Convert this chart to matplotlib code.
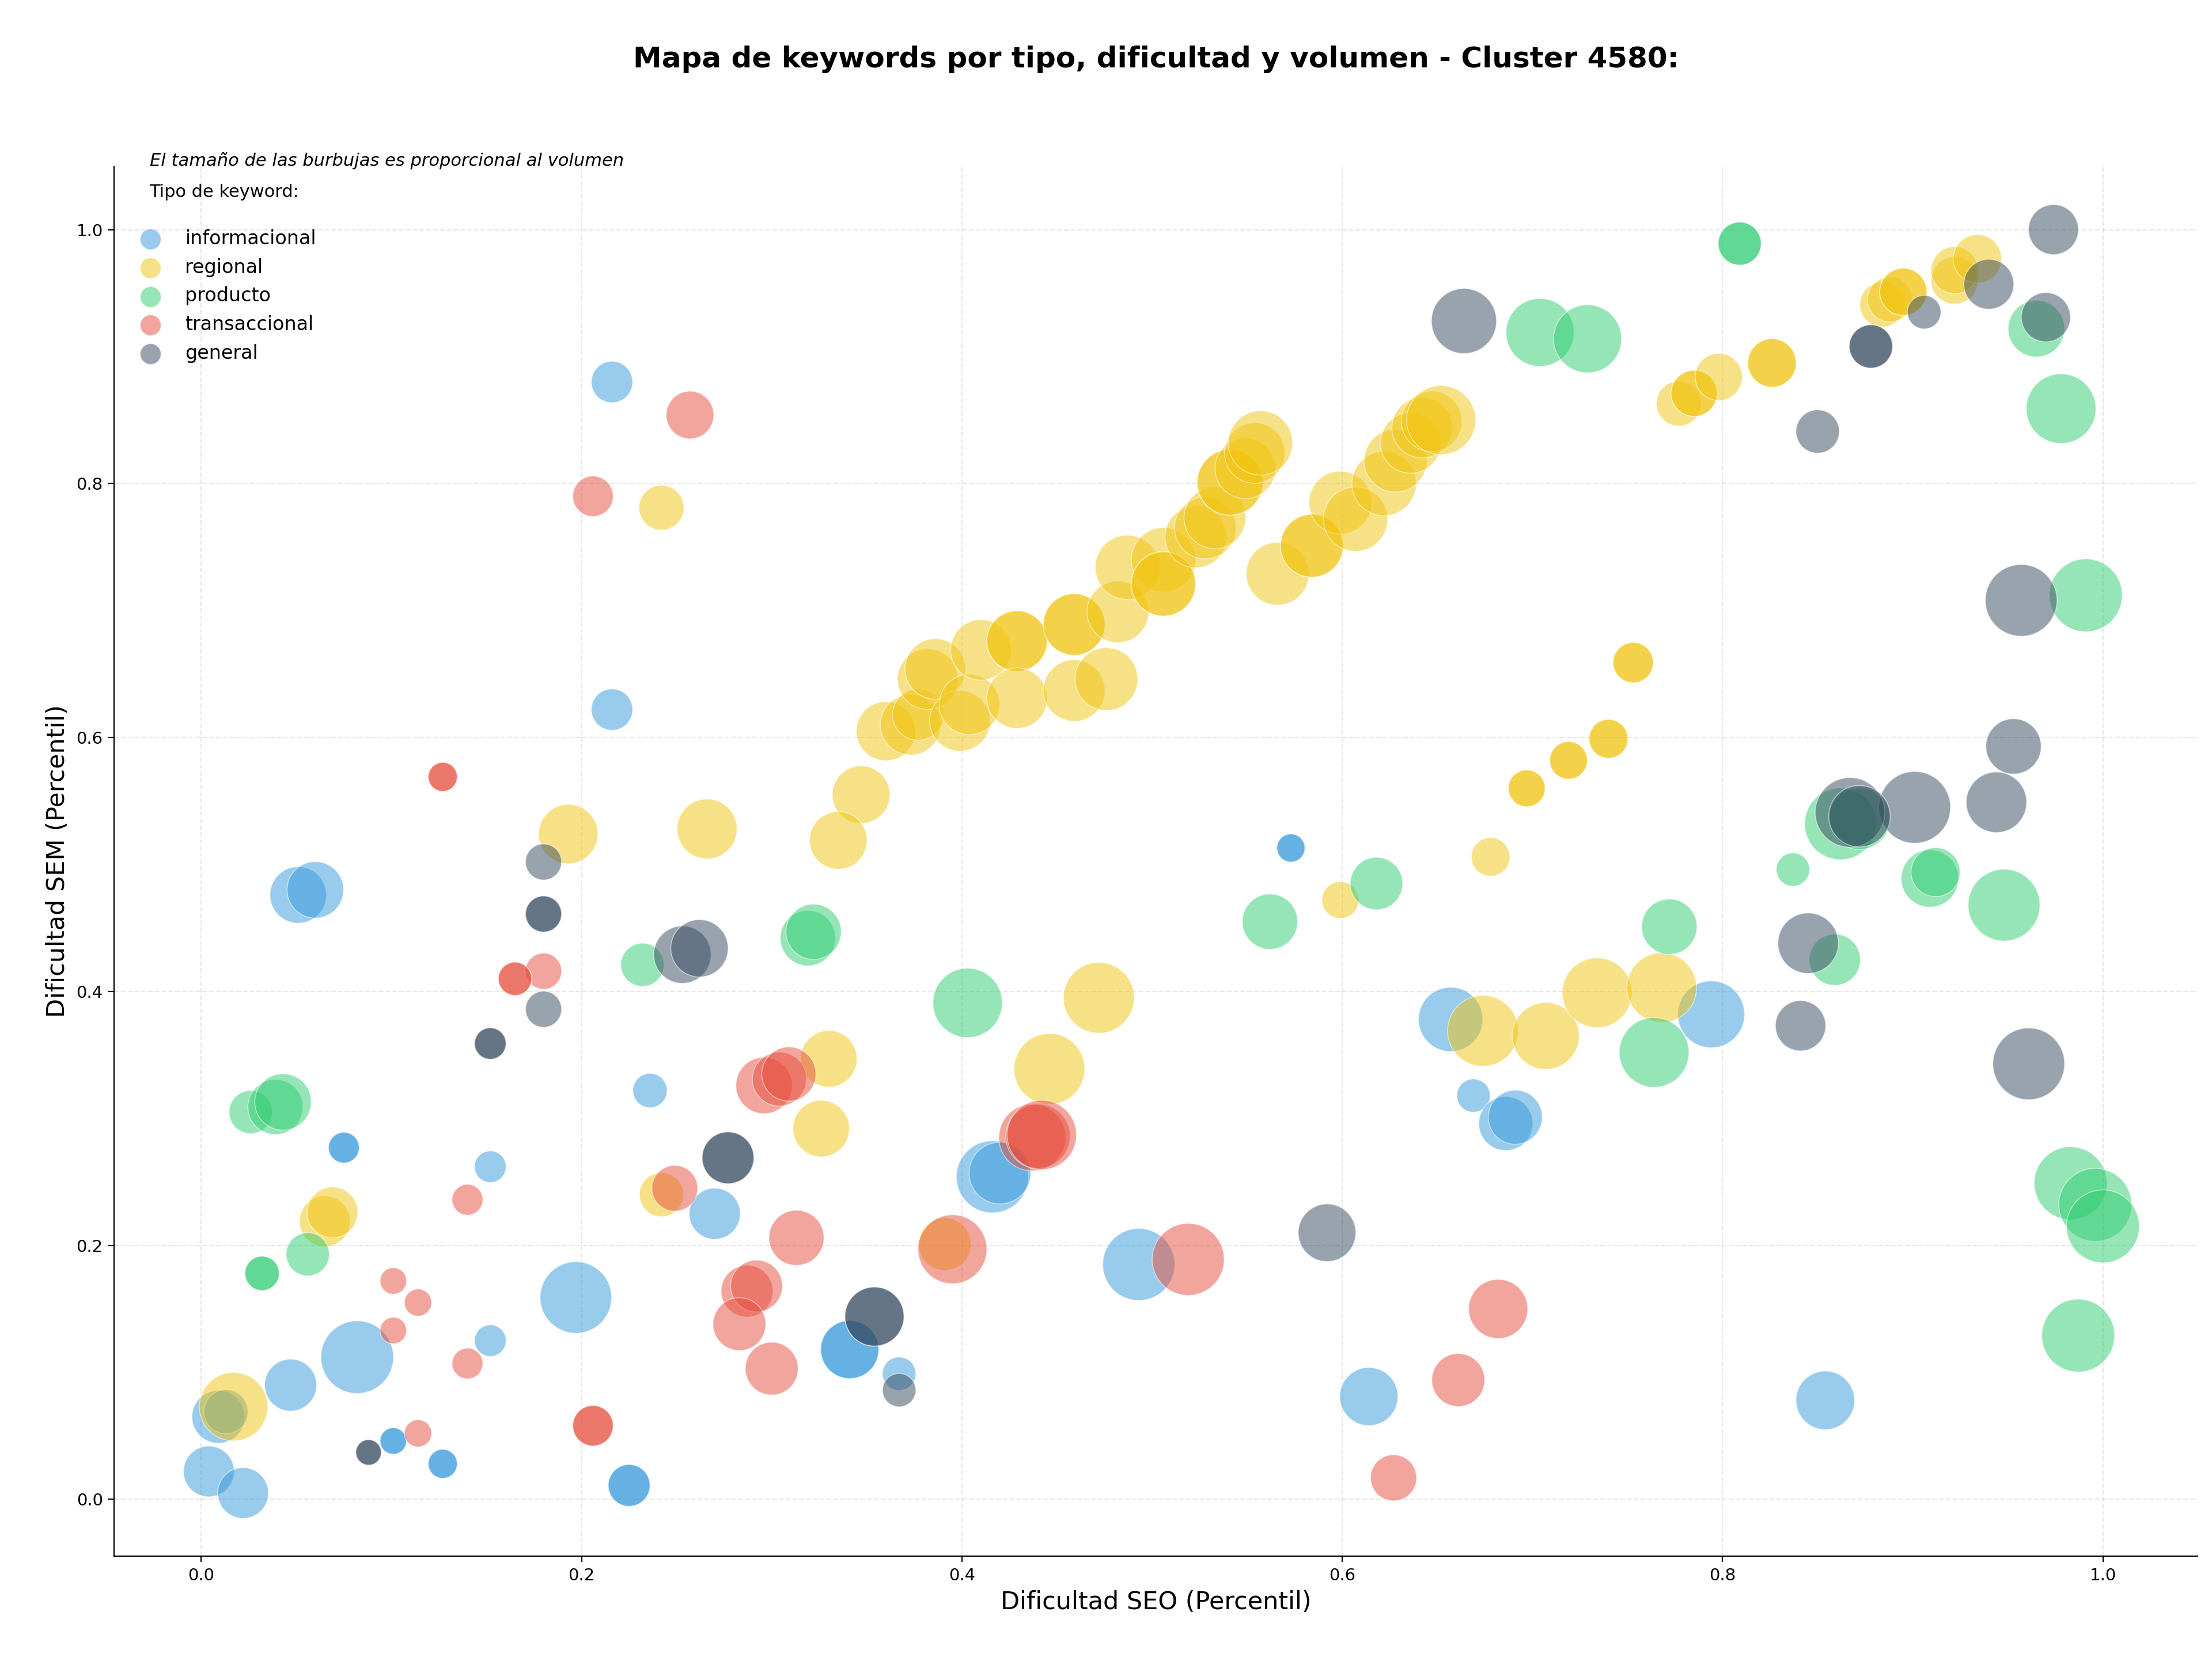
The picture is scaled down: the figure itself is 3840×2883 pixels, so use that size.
import matplotlib

matplotlib.use("Agg")
import matplotlib.pyplot as plt
import numpy as np

# Dificultad SEO (x), dificultad SEM (y) y volumen por tipo de keyword
tipos = ["informacional", "regional", "producto", "transaccional", "general"]
colores = ["#3498db", "#f1c40f", "#2ecc71", "#e74c3c", "#34495e"]

seo_info = [0.216, 0.216, 0.051, 0.060, 0.075, 0.075, 0.152, 0.236, 0.270, 0.152,
            0.197, 0.082, 0.047, 0.009, 0.013, 0.004, 0.022, 0.101, 0.101, 0.127,
            0.127, 0.225, 0.225, 0.367, 0.341, 0.341, 0.416, 0.420, 0.493, 0.573,
            0.573, 0.614, 0.657, 0.669, 0.686, 0.691, 0.794, 0.854]
sem_info = [0.880, 0.622, 0.476, 0.480, 0.277, 0.277, 0.262, 0.322, 0.225, 0.125,
            0.159, 0.112, 0.090, 0.065, 0.069, 0.022, 0.005, 0.046, 0.046, 0.028,
            0.028, 0.011, 0.011, 0.099, 0.118, 0.118, 0.254, 0.257, 0.185, 0.513,
            0.513, 0.081, 0.378, 0.318, 0.296, 0.301, 0.382, 0.078]
vol_info = [1340, 1340, 2490, 2490, 740, 740, 780, 920, 2040, 780,
            3990, 4120, 2110, 2180, 1520, 2010, 2010, 550, 550, 660,
            660, 1370, 1370, 870, 2640, 2640, 4050, 2970, 4050, 620,
            620, 2640, 3230, 870, 2280, 2280, 3490, 2680]

seo_reg = [0.065, 0.069, 0.242, 0.017, 0.242, 0.193, 0.266, 0.347, 0.335, 0.330,
           0.326, 0.472, 0.446, 0.391, 0.599, 0.678, 0.697, 0.697, 0.674, 0.707,
           0.360, 0.373, 0.377, 0.382, 0.386, 0.399, 0.404, 0.410, 0.429, 0.429,
           0.429, 0.459, 0.459, 0.459, 0.476, 0.482, 0.487, 0.506, 0.506, 0.506,
           0.523, 0.528, 0.533, 0.541, 0.541, 0.549, 0.554, 0.557, 0.566, 0.584,
           0.584, 0.599, 0.607, 0.622, 0.628, 0.636, 0.642, 0.647, 0.652,
           0.777, 0.785, 0.785, 0.798, 0.826, 0.826, 0.884, 0.888, 0.895, 0.895,
           0.922, 0.922, 0.934, 0.753, 0.753, 0.740, 0.740, 0.719, 0.719, 0.734,
           0.768]
sem_reg = [0.219, 0.226, 0.240, 0.073, 0.781, 0.524, 0.528, 0.555, 0.519, 0.347,
           0.292, 0.395, 0.339, 0.201, 0.472, 0.506, 0.560, 0.560, 0.369, 0.365,
           0.605, 0.610, 0.618, 0.646, 0.654, 0.613, 0.626, 0.669, 0.676, 0.676,
           0.631, 0.689, 0.689, 0.637, 0.646, 0.699, 0.734, 0.740, 0.721, 0.721,
           0.758, 0.765, 0.773, 0.801, 0.801, 0.812, 0.824, 0.832, 0.729, 0.751,
           0.751, 0.785, 0.772, 0.800, 0.818, 0.832, 0.844, 0.849, 0.850,
           0.863, 0.871, 0.871, 0.884, 0.895, 0.895, 0.941, 0.945, 0.951, 0.951,
           0.960, 0.968, 0.977, 0.659, 0.659, 0.599, 0.599, 0.582, 0.582, 0.399,
           0.403]
vol_reg = [2010, 2010, 1520, 3650, 1580, 2750, 2800, 2590, 2590, 2490,
           2490, 3920, 3920, 2150, 1060, 1160, 1060, 1060, 3920, 3490,
           2730, 2860, 2050, 2860, 2860, 2860, 2860, 2860, 2860, 2860,
           2860, 2970, 2970, 2970, 3080, 2970, 3230, 3230, 3230, 3230,
           2970, 2970, 2970, 3370, 3370, 2860, 2860, 3230, 3080, 3080,
           3080, 3080, 3230, 3230, 3080, 2860, 2860, 2860, 3730,
           1580, 1660, 1660, 1740, 1830, 1830, 1580, 1580, 1740, 1740,
           1740, 1740, 1830, 1270, 1270, 1180, 1180, 1110, 1110, 3790,
           3790]

seo_prod = [0.232, 0.026, 0.039, 0.043, 0.056, 0.032, 0.032, 0.319, 0.322, 0.403,
            0.618, 0.562, 0.809, 0.809, 0.704, 0.729, 0.965, 0.978, 0.991, 0.862,
            0.872, 0.837, 0.909, 0.912, 0.948, 0.772, 0.859, 0.764, 0.983, 0.996,
            1.000, 0.987]
sem_prod = [0.421, 0.305, 0.309, 0.313, 0.193, 0.178, 0.178, 0.442, 0.447, 0.391,
            0.485, 0.455, 0.989, 0.989, 0.919, 0.914, 0.922, 0.859, 0.712, 0.532,
            0.536, 0.496, 0.489, 0.494, 0.468, 0.451, 0.425, 0.352, 0.249, 0.232,
            0.215, 0.129]
vol_prod = [1460, 1460, 2370, 2490, 1460, 920, 920, 2390, 2390, 3760,
            2150, 2390, 1450, 1450, 3610, 3610, 2490, 3790, 4150, 4020,
            2950, 870, 2570, 1870, 4020, 2390, 2050, 3790, 4150, 4150,
            4150, 4150]

seo_trans = [0.257, 0.206, 0.127, 0.127, 0.180, 0.165, 0.165, 0.140, 0.249, 0.313,
             0.287, 0.292, 0.283, 0.300, 0.101, 0.114, 0.101, 0.140, 0.114, 0.206,
             0.206, 0.296, 0.304, 0.309, 0.437, 0.440, 0.442, 0.395, 0.519, 0.682,
             0.661, 0.627]
sem_trans = [0.854, 0.790, 0.569, 0.569, 0.416, 0.410, 0.410, 0.236, 0.245, 0.206,
             0.164, 0.168, 0.138, 0.103, 0.172, 0.155, 0.133, 0.107, 0.052, 0.058,
             0.058, 0.326, 0.331, 0.335, 0.285, 0.286, 0.287, 0.197, 0.189, 0.150,
             0.094, 0.017]
vol_trans = [1770, 1280, 660, 660, 1020, 870, 870, 740, 1640, 2370,
             2100, 2100, 2180, 2180, 550, 580, 550, 740, 580, 1280,
             1280, 2490, 2280, 2290, 3490, 3230, 3760, 3710, 4050, 2730,
             2190, 1660]

seo_gen = [0.180, 0.180, 0.180, 0.180, 0.152, 0.152, 0.253, 0.262, 0.277, 0.277,
           0.088, 0.088, 0.354, 0.354, 0.367, 0.592, 0.664, 0.850, 0.878, 0.878,
           0.906, 0.940, 0.974, 0.970, 0.957, 0.953, 0.944, 0.901, 0.867, 0.872,
           0.845, 0.841, 0.961]
sem_gen = [0.502, 0.461, 0.461, 0.386, 0.359, 0.359, 0.429, 0.434, 0.269, 0.269,
           0.037, 0.037, 0.144, 0.144, 0.086, 0.210, 0.928, 0.841, 0.908, 0.908,
           0.935, 0.957, 1.000, 0.931, 0.708, 0.593, 0.549, 0.545, 0.541, 0.538,
           0.438, 0.373, 0.343]
vol_gen = [1020, 1020, 1020, 1020, 780, 780, 2570, 2570, 2100, 2100,
           510, 510, 2730, 2730, 870, 2590, 3310, 1470, 1470, 1470,
           880, 1950, 1950, 1890, 4020, 2390, 2860, 4020, 3790, 2950,
           2860, 1980, 4020]

series = [
    (seo_info, sem_info, vol_info),
    (seo_reg, sem_reg, vol_reg),
    (seo_prod, sem_prod, vol_prod),
    (seo_trans, sem_trans, vol_trans),
    (seo_gen, sem_gen, vol_gen),
]

fig, ax = plt.subplots(figsize=(19.2, 14.415), dpi=200)
fig.subplots_adjust(left=0.0516, right=0.9935, bottom=0.0631, top=0.8998)

for tipo, color, (x, y, vol) in zip(tipos, colores, series):
    ax.scatter(x, y, s=np.array(vol) * 0.5, c=color, alpha=0.5,
               edgecolors="white", linewidths=0.6, label=tipo, zorder=3)

ax.grid(True, linestyle="--", alpha=0.3, zorder=0)
ax.set_axisbelow(True)
ax.spines["top"].set_visible(False)
ax.spines["right"].set_visible(False)
ax.tick_params(labelsize=10.5)

ax.set_xlabel("Dificultad SEO (Percentil)", fontsize=15.5)
ax.set_ylabel("Dificultad SEM (Percentil)", fontsize=15.5)
ax.set_title("Mapa de keywords por tipo, dificultad y volumen - Cluster 4580:",
             fontsize=18, fontweight="bold", pad=62)

ax.text(0.017, 1.004, "El tamaño de las burbujas es proporcional al volumen",
        transform=ax.transAxes, fontsize=11, style="italic", va="center", ha="left")

leg = ax.legend(title="Tipo de keyword:\n", loc="upper left", frameon=False,
                fontsize=12, title_fontsize=11)
for h in leg.legend_handles:
    h.set_sizes([170])

fig.savefig("out.png", dpi=200)
plt.close(fig)
